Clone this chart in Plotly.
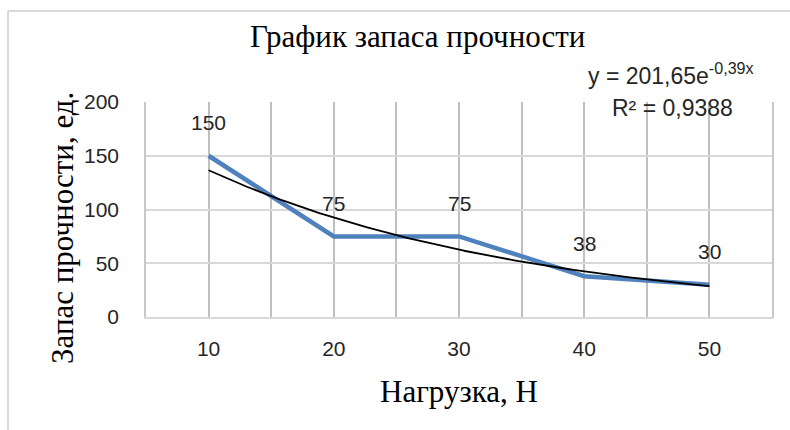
import numpy as np
import plotly.graph_objects as go

# Load levels (category axis) and safety margin at each load
loads = [10, 20, 30, 40, 50]
margin_values = [150, 75, 75, 38, 30]
tick_labels = [str(v) for v in loads]
y_ticks = [0, 50, 100, 150, 200]

# Categories are placed at positions 1..n, as in a spreadsheet line chart
idx = np.arange(1, len(loads) + 1)

# Exponential trendline y = a*e^(b*x), fitted on log values
log_y = np.log(margin_values)
b, ln_a = np.polyfit(idx, log_y, 1)
a = np.exp(ln_a)
log_fit = ln_a + b * idx
r2 = 1 - np.sum((log_y - log_fit) ** 2) / np.sum((log_y - log_y.mean()) ** 2)
trend_x = np.linspace(idx[0], idx[-1], 200)
trend_y = a * np.exp(b * trend_x)


def ru(v, nd):
    return f"{v:.{nd}f}".replace(".", ",")


# Plot-area geometry in pixels
W, H = 790, 430
L, R, T, B = 146, 772, 102, 317


def px_x(p):
    return (p - L) / (R - L)


def px_y(p):
    return (B - p) / (B - T)


SERIF = "Liberation Serif, Times New Roman, serif"
SANS = "Liberation Sans, Arial, sans-serif"
TXT = "#262626"

fig = go.Figure()

fig.add_trace(go.Scatter(
    x=idx, y=margin_values, mode="lines",
    line=dict(color="#4F81BD", width=4.5),
    hoverinfo="skip", showlegend=False,
))
fig.add_trace(go.Scatter(
    x=trend_x, y=trend_y, mode="lines",
    line=dict(color="#000000", width=1.8),
    hoverinfo="skip", showlegend=False,
))

annotations = []
# Data labels above each point
for xi, v in zip(idx, margin_values):
    annotations.append(dict(
        x=xi, y=v, xref="x", yref="y", text=str(v), showarrow=False,
        yshift=33, font=dict(family=SANS, size=21, color=TXT),
    ))

# Chart title
annotations.append(dict(
    x=px_x(417), y=px_y(36), xref="paper", yref="paper",
    text="График запаса прочности", showarrow=False,
    xanchor="center", yanchor="middle",
    font=dict(family=SERIF, size=31, color="#000000"),
))
# Axis titles
annotations.append(dict(
    x=px_x(459), y=px_y(391), xref="paper", yref="paper",
    text="Нагрузка, Н", showarrow=False,
    xanchor="center", yanchor="middle",
    font=dict(family=SERIF, size=31, color="#000000"),
))
annotations.append(dict(
    x=px_x(62), y=px_y(228), xref="paper", yref="paper",
    text="Запас прочности, ед.", showarrow=False, textangle=-90,
    xanchor="center", yanchor="middle",
    font=dict(family=SERIF, size=31, color="#000000"),
))
# Trendline equation and R²
annotations.append(dict(
    x=px_x(671), y=px_y(74), xref="paper", yref="paper",
    text=f"y = {ru(a, 2)}e<sup>{ru(b, 2)}x</sup>", showarrow=False,
    xanchor="center", yanchor="middle",
    font=dict(family=SANS, size=23, color=TXT),
))
annotations.append(dict(
    x=px_x(672), y=px_y(108), xref="paper", yref="paper",
    text=f"R² = {ru(r2, 4)}", showarrow=False,
    xanchor="center", yanchor="middle",
    font=dict(family=SANS, size=23, color=TXT),
))

# Outer chart frame (left and top edges)
frame = dict(color="#D9D9D9", width=2)
shapes = [
    dict(type="line", xref="paper", yref="paper",
         x0=px_x(8), x1=px_x(8), y0=px_y(11), y1=px_y(440), line=frame),
    dict(type="line", xref="paper", yref="paper",
         x0=px_x(8), x1=px_x(800), y0=px_y(11), y1=px_y(11), line=frame),
]

fig.update_layout(
    width=W, height=H,
    margin=dict(l=L, r=W - R, t=T, b=H - B, pad=0),
    paper_bgcolor="#FFFFFF", plot_bgcolor="#FFFFFF",
    annotations=annotations, shapes=shapes,
    showlegend=False,
)

fig.update_xaxes(
    range=[0.5, len(loads) + 0.5],
    tickvals=idx, ticktext=tick_labels,
    showgrid=True, gridcolor="#BFBFBF", gridwidth=1.6,
    minor=dict(tick0=0.5, dtick=1, showgrid=True,
               gridcolor="#BFBFBF", gridwidth=1.6),
    zeroline=False, showline=True, linecolor="#D9D9D9", linewidth=2,
    ticks="", ticklabelstandoff=12,
    tickfont=dict(family=SANS, size=21, color=TXT),
    fixedrange=True,
)
fig.update_yaxes(
    range=[0, 200], tickvals=y_ticks,
    showgrid=True, gridcolor="#D9D9D9", gridwidth=1.6,
    zeroline=False, showline=True, linecolor="#C8C8C8", linewidth=1.6,
    mirror=True,
    ticks="", ticklabelstandoff=21,
    tickfont=dict(family=SANS, size=21, color=TXT),
    fixedrange=True,
)

fig.write_html("out.html")
